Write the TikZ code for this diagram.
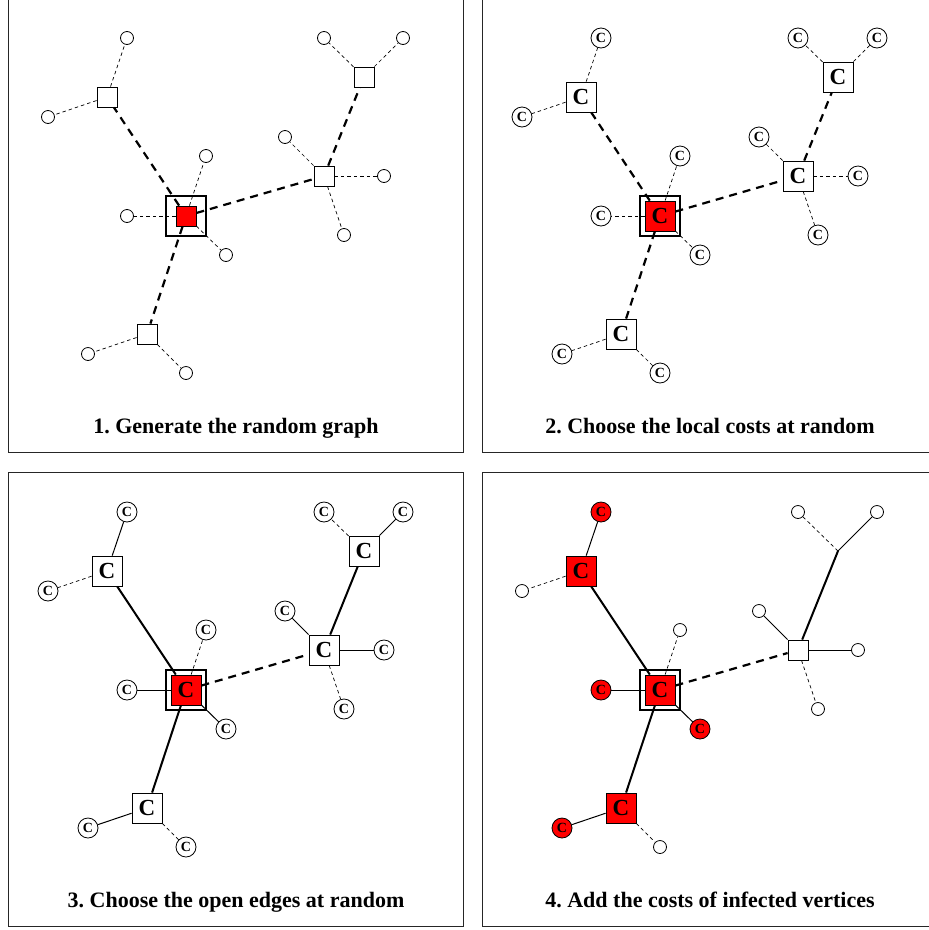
\documentclass[tikz,border=0pt]{standalone}
\usepackage{fontspec}
\setmainfont{Liberation Serif}
\usetikzlibrary{calc}
\frenchspacing
\def\sqsmall{20pt}
\def\sqbig{30pt}
\def\leafsmall{13pt}
\def\leafbig{20pt}
% leaf positions, the same in every panel
\def\leafpos{tl1/127/38, tl2/48/117, tr1/324/38, tr2/403/38, r1/285/137, r2/384/176, r3/344/235, c1/127/216, c2/206/156, c3/226/255, b1/88/354, b2/186/373}
\def\allleafedges{tl/tl1, tl/tl2, tr/tr1, tr/tr2, r/r1, r/r2, r/r3, c/c1, c/c2, c/c3, b/b1, b/b2}
\def\openleafedges{tl/tl1, tr/tr2, r/r1, r/r2, c/c1, c/c3, b/b1}
\def\shutleafedges{tl/tl2, tr/tr1, r/r3, c/c2, b/b2}
\tikzset{
    vertex/.style = {
        draw, rectangle, fill=white, minimum size=\sqsmall, inner sep=0pt, line width=0.8pt
    },
    bigvertex/.style = {
        vertex, minimum size=\sqbig, font=\fontsize{23}{23}\selectfont\bfseries
    },
    leaf/.style = {
        draw, circle, fill=white, minimum size=\leafsmall, inner sep=0pt, line width=0.8pt
    },
    bigleaf/.style = {
        leaf, minimum size=\leafbig, font=\fontsize{14}{14}\selectfont\bfseries
    },
    infected/.style = {fill=red},
    rootring/.style = {draw, rectangle, minimum size=40pt, line width=2pt},
    shutbond/.style = {dash pattern=on 3.5pt off 3pt, line width=0.7pt},
    openbond/.style = {line width=1pt},
    shutmain/.style = {dash pattern=on 8pt off 6pt, line width=2.2pt},
    openmain/.style = {line width=2pt},
    capt/.style = {font=\fontsize{22}{22}\selectfont\bfseries, anchor=base},
    panelframe/.style = {line width=1pt, draw=black!85},
}

\begin{document}
\begin{tikzpicture}[x=1pt, y=-1pt]
    \clip (0,0) rectangle (929,930);

    % Panel 1: the random graph
    \begin{scope}
        \draw[panelframe] (8,-2) rectangle (463,452);
        \node[vertex] (a-tl) at (107,97) {};
        \node[vertex] (a-tr) at (364,77) {};
        \node[vertex] (a-r) at (324,176) {};
        \node[vertex] (a-b) at (147,334) {};
        \node[rootring] (a-ring) at (186,216) {};
        \node[vertex, infected] (a-c) at (186,216) {};
        \foreach \n/\x/\y in \leafpos
            \node[leaf] (a-\n) at (\x,\y) {};
        \foreach \s/\t in \allleafedges
            \draw[shutbond] (a-\s) -- (a-\t);
        \draw[shutmain] (a-c) -- (a-tl);
        \draw[shutmain] (a-c) -- (a-r);
        \draw[shutmain] (a-c) -- (a-b);
        \draw[shutmain] (a-r) -- (a-tr);
        \node[capt] (a-capt) at (236,433) {1. Generate the random graph};
    \end{scope}

    % Panel 2: local costs
    \begin{scope}[shift={(474,0)}]
        \draw[panelframe] (8,-2) rectangle (463,452);
        \node[bigvertex] (b-tl) at (107,97) {C};
        \node[bigvertex] (b-tr) at (364,77) {C};
        \node[bigvertex] (b-r) at (324,176) {C};
        \node[bigvertex] (b-b) at (147,334) {C};
        \node[rootring] (b-ring) at (186,216) {};
        \node[bigvertex, infected] (b-c) at (186,216) {C};
        \foreach \n/\x/\y in \leafpos
            \node[bigleaf] (b-\n) at (\x,\y) {C};
        \foreach \s/\t in \allleafedges
            \draw[shutbond] (b-\s) -- (b-\t);
        \draw[shutmain] (b-c) -- (b-tl);
        \draw[shutmain] (b-c) -- (b-r);
        \draw[shutmain] (b-c) -- (b-b);
        \draw[shutmain] (b-r) -- (b-tr);
        \node[capt] (b-capt) at (236,433) {2. Choose the local costs at random};
    \end{scope}

    % Panel 3: open edges
    \begin{scope}[shift={(0,474)}]
        \draw[panelframe] (8,-2) rectangle (463,452);
        \node[bigvertex] (c-tl) at (107,97) {C};
        \node[bigvertex] (c-tr) at (364,77) {C};
        \node[bigvertex] (c-r) at (324,176) {C};
        \node[bigvertex] (c-b) at (147,334) {C};
        \node[rootring] (c-ring) at (186,216) {};
        \node[bigvertex, infected] (c-c) at (186,216) {C};
        \foreach \n/\x/\y in \leafpos
            \node[bigleaf] (c-\n) at (\x,\y) {C};
        \foreach \s/\t in \openleafedges
            \draw[openbond] (c-\s) -- (c-\t);
        \foreach \s/\t in \shutleafedges
            \draw[shutbond] (c-\s) -- (c-\t);
        \draw[openmain] (c-c) -- (c-tl);
        \draw[shutmain] (c-c) -- (c-r);
        \draw[openmain] (c-c) -- (c-b);
        \draw[openmain] (c-r) -- (c-tr);
        \node[capt] (c-capt) at (236,433) {3. Choose the open edges at random};
    \end{scope}

    % Panel 4: infected vertices
    \begin{scope}[shift={(474,474)}]
        \draw[panelframe] (8,-2) rectangle (463,452);
        \node[bigvertex, infected] (d-tl) at (107,97) {C};
        \coordinate (d-tr) at (364,77);
        \node[vertex] (d-r) at (324,176) {};
        \node[bigvertex, infected] (d-b) at (147,334) {C};
        \node[rootring] (d-ring) at (186,216) {};
        \node[bigvertex, infected] (d-c) at (186,216) {C};
        \foreach \n/\x/\y in {tl2/48/117, tr1/324/38, tr2/403/38, r1/285/137, r2/384/176, r3/344/235, c2/206/156, b2/186/373}
            \node[leaf] (d-\n) at (\x,\y) {};
        \foreach \n/\x/\y in {tl1/127/38, c1/127/216, c3/226/255, b1/88/354}
            \node[bigleaf, infected] (d-\n) at (\x,\y) {C};
        \foreach \s/\t in \openleafedges
            \draw[openbond] (d-\s) -- (d-\t);
        \foreach \s/\t in \shutleafedges
            \draw[shutbond] (d-\s) -- (d-\t);
        \draw[openmain] (d-c) -- (d-tl);
        \draw[shutmain] (d-c) -- (d-r);
        \draw[openmain] (d-c) -- (d-b);
        \draw[openmain] (d-r) -- (d-tr);
        \node[capt] (d-capt) at (236,433) {4. Add the costs of infected vertices};
    \end{scope}
\end{tikzpicture}
\end{document}
